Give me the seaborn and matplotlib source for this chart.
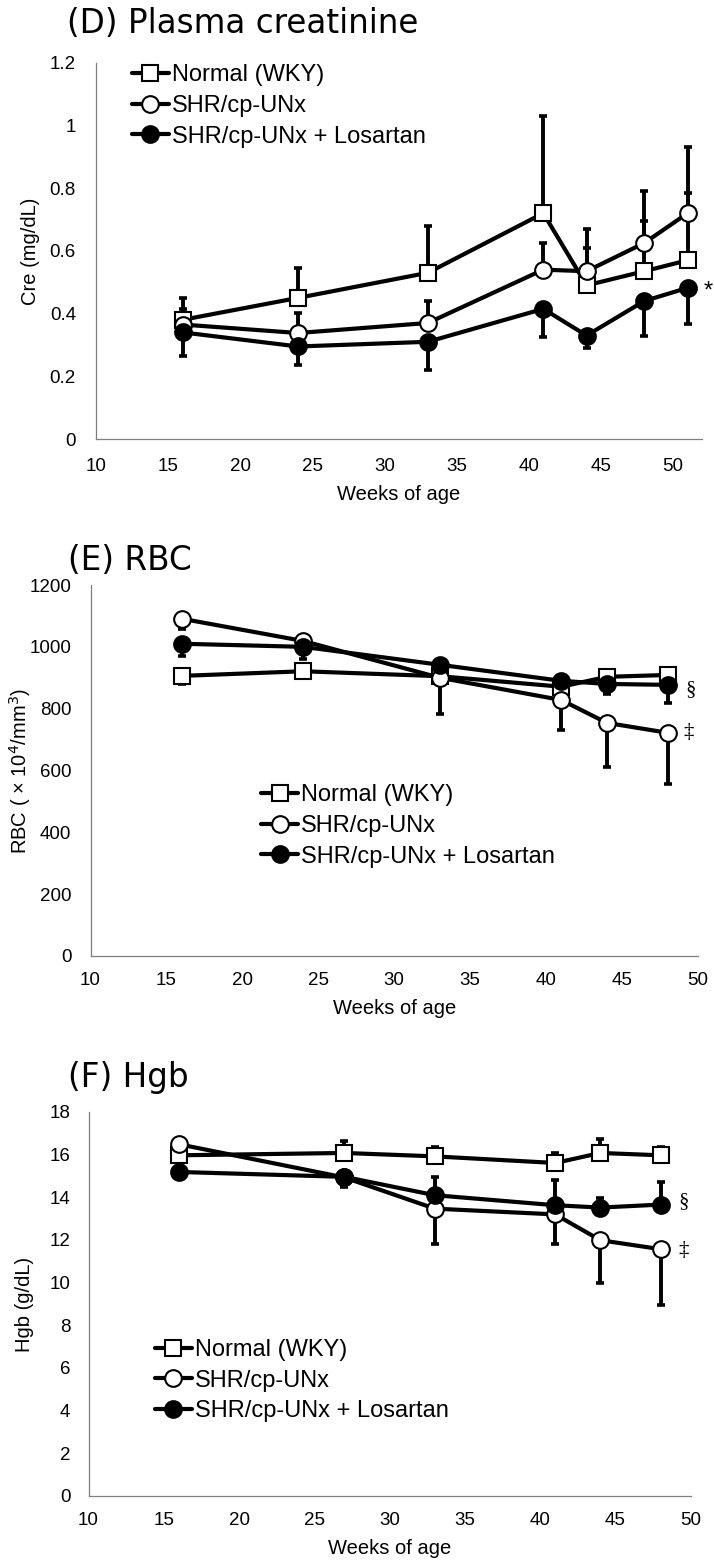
import numpy as np
import pandas as pd
import matplotlib
matplotlib.use("Agg")
import matplotlib.pyplot as plt
import seaborn as sns
from matplotlib.ticker import MultipleLocator, FuncFormatter

# ---------------- data ----------------
series_names = ["Normal (WKY)", "SHR/cp-UNx", "SHR/cp-UNx + Losartan"]

# (D) Plasma creatinine
weeks_cre = [16, 24, 33, 41, 44, 48, 51]
normal_cre = [0.38, 0.45, 0.53, 0.72, 0.49, 0.535, 0.57]
normal_cre_up = [0.07, 0.095, 0.15, 0.31, 0.12, 0.16, 0.215]
shr_cre = [0.365, 0.338, 0.37, 0.54, 0.535, 0.625, 0.72]
shr_cre_up = [0.05, 0.065, 0.07, 0.085, 0.135, 0.165, 0.21]
los_cre = [0.34, 0.295, 0.31, 0.415, 0.33, 0.44, 0.482]
los_cre_lo = [0.075, 0.06, 0.09, 0.09, 0.04, 0.11, 0.115]

# (E) RBC
weeks_rbc = [16, 24, 33, 41, 44, 48]
normal_rbc = [906, 921, 905, 871, 903, 909]
normal_rbc_lo = [26, 22, 12, 12, 10, 10]
shr_rbc = [1091, 1019, 900, 828, 754, 722]
shr_rbc_lo = [33, 25, 117, 97, 142, 165]
los_rbc = [1010, 1000, 942, 890, 880, 877]
los_rbc_lo = [39, 39, 10, 10, 32, 58]

# (F) Hgb
weeks_hgb = [16, 27, 33, 41, 44, 48]
normal_hgb = [15.97, 16.08, 15.92, 15.61, 16.08, 15.97]
normal_hgb_up = [0.15, 0.56, 0.44, 0.45, 0.64, 0.38]
shr_hgb = [16.49, 14.93, 13.47, 13.2, 11.99, 11.57]
shr_hgb_lo = [0.15, 0.45, 1.67, 1.4, 1.99, 2.63]
los_hgb = [15.19, 14.96, 14.1, 13.63, 13.52, 13.66]
los_hgb_up = [0.12, 0.15, 0.83, 1.17, 0.45, 1.06]

# ---------------- style ----------------
sns.set_theme(style="white")
plt.rcParams["font.family"] = ["Liberation Sans", "DejaVu Sans"]
plt.rcParams["text.color"] = "black"
plt.rcParams["axes.labelcolor"] = "black"
plt.rcParams["xtick.color"] = "black"
plt.rcParams["ytick.color"] = "black"

W, H = 714, 1561
fig = plt.figure(figsize=(W / 100, H / 100), dpi=100)


def fx(px):
    return px / W


def fy(py):
    return 1 - py / H


def make_ax(left, right, top, bottom):
    return fig.add_axes([fx(left), fy(bottom), (right - left) / W, (bottom - top) / H])


marker_styles = [
    dict(marker="s", markerfacecolor="white"),
    dict(marker="o", markerfacecolor="white"),
    dict(marker="o", markerfacecolor="black"),
]


def draw_panel(ax, weeks, vals, errs, sides):
    for i, (name, v, e, side) in enumerate(zip(series_names, vals, errs, sides)):
        zeros = [0] * len(e)
        yerr = [zeros, e] if side == "up" else [e, zeros]
        ax.errorbar(weeks, v, yerr=yerr, fmt="none", ecolor="black",
                    elinewidth=2.8, capsize=2.8, capthick=2.6, zorder=2)
    for i, (name, v) in enumerate(zip(series_names, vals)):
        df = pd.DataFrame({"week": weeks, "value": v})
        sns.lineplot(data=df, x="week", y="value", ax=ax, color="black",
                     linewidth=3.0, markersize=12, markeredgecolor="black",
                     markeredgewidth=1.5, label=name, zorder=3 + i,
                     legend=False, **marker_styles[i])


def style_axes(ax, xlim, ylim, ystep, xpad, ypad):
    ax.set_xlim(*xlim)
    ax.set_ylim(*ylim)
    ax.xaxis.set_major_locator(MultipleLocator(5))
    ax.yaxis.set_major_locator(MultipleLocator(ystep))
    ax.yaxis.set_major_formatter(FuncFormatter(lambda v, p: f"{v:g}"))
    for s in ["top", "right"]:
        ax.spines[s].set_visible(False)
    for s in ["left", "bottom"]:
        ax.spines[s].set_color("#7f7f7f")
        ax.spines[s].set_linewidth(0.9)
    ax.tick_params(axis="both", direction="in", length=4, width=0.8,
                   color="#7f7f7f", labelsize=13.5, labelcolor="black")
    ax.tick_params(axis="x", pad=xpad)
    ax.tick_params(axis="y", pad=ypad)
    ax.set_xlabel("")
    ax.set_ylabel("")
    ax.grid(False)


def add_legend(ax, left_px, top_px):
    leg = ax.legend(loc="upper left", bbox_to_anchor=(fx(left_px), fy(top_px)),
                    bbox_transform=fig.transFigure, frameon=False, borderpad=0,
                    borderaxespad=0, handlelength=1.6, handletextpad=0.1,
                    labelspacing=0.36, fontsize=17)
    for t in leg.get_texts():
        t.set_color("black")


def add_labels(ax, xlabel, xl_y, ylabel, yl_x):
    pos = ax.get_position()
    ax.set_xlabel(xlabel, fontsize=14.5, va="center", color="black")
    ax.xaxis.set_label_coords((pos.x0 + pos.x1) / 2, fy(xl_y), transform=fig.transFigure)
    ax.set_ylabel(ylabel, fontsize=14.5, va="center", ha="center", color="black")
    ax.yaxis.set_label_coords(fx(yl_x), (pos.y0 + pos.y1) / 2, transform=fig.transFigure)


title_kw = dict(fontsize=23.5, family=["DejaVu Sans"], ha="left", va="baseline",
                color="black")
mark_kw = dict(fontsize=15, family=["Liberation Serif", "DejaVu Serif"],
               ha="center", va="center", clip_on=False, color="black")

# ---------- (D) ----------
axD = make_ax(96, 702, 62.7, 439)
draw_panel(axD, weeks_cre, [normal_cre, shr_cre, los_cre],
           [normal_cre_up, shr_cre_up, los_cre_lo], ["up", "up", "lo"])
style_axes(axD, (10, 52), (0, 1.2), 0.2, 13.7, 14.4)
add_legend(axD, 131.5, 64.5)
add_labels(axD, "Weeks of age", 495, "Cre (mg/dL)", 30)
axD.text(52.4, 0.47, "*", fontsize=17, ha="center", va="center", clip_on=False,
         color="black")
fig.text(fx(67), fy(33), "(D) Plasma creatinine", **title_kw)

# ---------- (E) ----------
axE = make_ax(90.5, 698, 585, 956)
draw_panel(axE, weeks_rbc, [normal_rbc, shr_rbc, los_rbc],
           [normal_rbc_lo, shr_rbc_lo, los_rbc_lo], ["lo", "lo", "lo"])
style_axes(axE, (10, 50), (0, 1200), 200, 11.5, 13.7)
add_legend(axE, 260.7, 784.5)
add_labels(axE, "Weeks of age", 1008, "RBC ( \u00d7 10$^{4}$/mm$^{3}$)", 20)
axE.text(49.5, 861, "\u00a7", **mark_kw)
axE.text(49.4, 722, "\u2021", **mark_kw)
fig.text(fx(68), fy(570), "(E) RBC", **title_kw)

# ---------- (F) ----------
axF = make_ax(88.5, 690.7, 1112, 1496)
draw_panel(axF, weeks_hgb, [normal_hgb, shr_hgb, los_hgb],
           [normal_hgb_up, shr_hgb_lo, los_hgb_up], ["up", "lo", "up"])
style_axes(axF, (10, 50), (0, 18), 2, 11.3, 13.0)
add_legend(axF, 154.5, 1339)
add_labels(axF, "Weeks of age", 1549, "Hgb (g/dL)", 24)
axF.text(49.5, 13.78, "\u00a7", **mark_kw)
axF.text(49.5, 11.52, "\u2021", **mark_kw)
fig.text(fx(68), fy(1087), "(F) Hgb", **title_kw)

fig.savefig("out.png", dpi=100, facecolor="white")
